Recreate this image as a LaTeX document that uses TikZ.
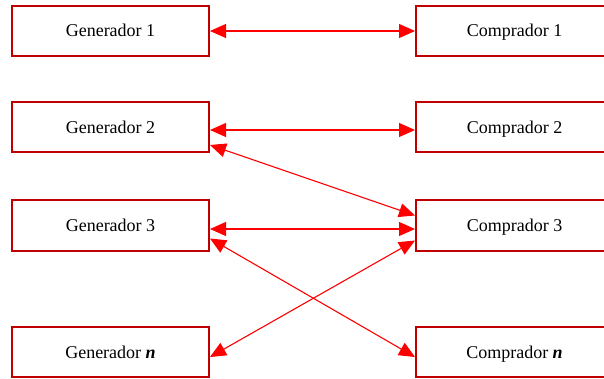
\documentclass[tikz,border=0pt]{standalone}
\usepackage{fontspec}
\setmainfont{Liberation Serif}
\usetikzlibrary{arrows.meta,calc}
\definecolor{boxred}{HTML}{C00000}
\definecolor{linkred}{HTML}{FF0000}
\begin{document}
\begin{tikzpicture}[x=1pt,y=-1pt,
  party/.style={draw=boxred,line width=2pt,fill=white,minimum width=197pt,
    minimum height=50pt,inner sep=0pt,text height=13pt,text depth=1pt,
    font=\fontsize{18}{20}\selectfont},
  link/.style={draw=linkred,line width=1.1pt,
    {Triangle[length=16pt,width=14pt]}-{Triangle[length=16pt,width=14pt]}}]
\clip (0,0) rectangle (604,379);
\fill[white] (0,0) rectangle (604,379);

% producers on the left, buyers on the right
\node[party] (g1) at (110.5,31)    {Generador 1};
\node[party] (g2) at (110.5,127.5) {Generador 2};
\node[party] (g3) at (110.5,225.5) {Generador 3};
\node[party] (gn) at (110.5,352)   {Generador \textbf{\textit{n}}};

\node[party] (c1) at (514.5,31)    {Comprador 1};
\node[party] (c2) at (514.5,127.5) {Comprador 2};
\node[party] (c3) at (514.5,225.5) {Comprador 3};
\node[party] (cn) at (514.5,352)   {Comprador \textbf{\textit{n}}};

% contracts between them
\draw[link] (g1.east) -- (c1.west);
\draw[link] ($(g2.east)+(0,2.5)$) -- ($(c2.west)+(0,2.5)$);
\draw[link] ($(g2.east)+(0,17.5)$) -- ($(c3.west)+(0,-10)$);
\draw[link] ($(g3.east)+(0,3.5)$) -- ($(c3.west)+(0,3.5)$);
\draw[link] ($(g3.east)+(0,13)$) -- ($(cn.west)+(0,5)$);
\draw[link] ($(gn.east)+(0,5)$) -- ($(c3.west)+(0,15)$);
\end{tikzpicture}
\end{document}
